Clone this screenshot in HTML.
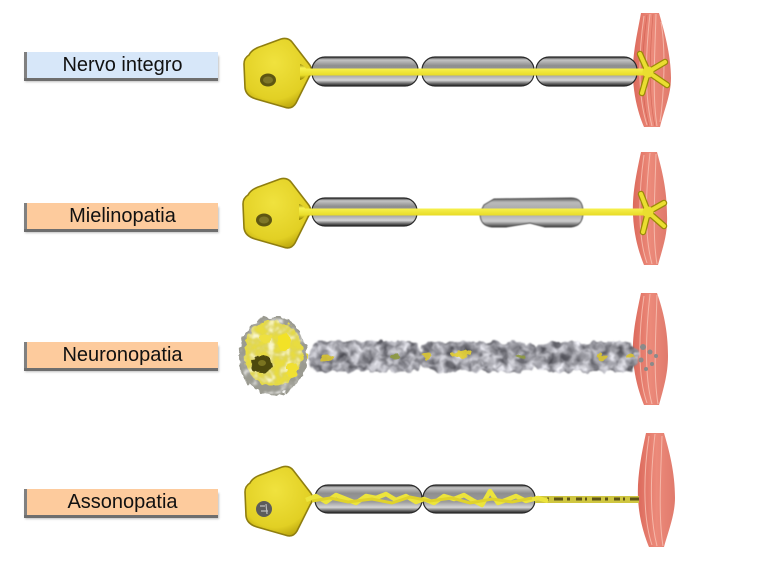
<!DOCTYPE html>
<html><head><meta charset="utf-8">
<style>
html,body{margin:0;padding:0;background:#fff;}
body{width:760px;height:569px;position:relative;overflow:hidden;font-family:"Liberation Sans",sans-serif;}
.lab{position:absolute;left:24px;width:194px;height:26px;box-sizing:border-box;border-left:3px solid #808080;box-shadow:0 3px 0 #6e6e6e,1px 4px 2px rgba(0,0,0,.25);font-size:20px;line-height:26px;text-align:center;color:#111;}
.blue{background:#d7e7f9}
.or{background:#fdcb9d}
svg{position:absolute;left:0;top:0}
</style></head><body>
<svg width="760" height="569" viewBox="0 0 760 569" xmlns="http://www.w3.org/2000/svg">
<defs>
 <linearGradient id="myel" x1="0" y1="0" x2="0" y2="1">
  <stop offset="0" stop-color="#3a3a3a"/>
  <stop offset="0.1" stop-color="#c4c4c4"/>
  <stop offset="0.3" stop-color="#8e8e8e"/>
  <stop offset="0.6" stop-color="#9c9c9c"/>
  <stop offset="0.8" stop-color="#d6d6d6"/>
  <stop offset="0.93" stop-color="#5a5a5a"/>
  <stop offset="1" stop-color="#222"/>
 </linearGradient>
 <linearGradient id="myel2" x1="0" y1="0" x2="0" y2="1">
  <stop offset="0" stop-color="#555"/>
  <stop offset="0.15" stop-color="#bbb"/>
  <stop offset="0.5" stop-color="#a2a2a2"/>
  <stop offset="0.8" stop-color="#cfcfcf"/>
  <stop offset="1" stop-color="#3a3a3a"/>
 </linearGradient>
 <linearGradient id="axon" x1="0" y1="0" x2="0" y2="1">
  <stop offset="0" stop-color="#9a8a08"/>
  <stop offset="0.25" stop-color="#f8f250"/>
  <stop offset="0.7" stop-color="#e8dc28"/>
  <stop offset="1" stop-color="#8a7a00"/>
 </linearGradient>
 <radialGradient id="soma" cx="0.45" cy="0.35" r="0.7">
  <stop offset="0" stop-color="#f0e23e"/>
  <stop offset="0.75" stop-color="#e2d024"/>
  <stop offset="1" stop-color="#b8a20a"/>
 </radialGradient>
 <linearGradient id="musc" x1="0" y1="0" x2="1" y2="0">
  <stop offset="0" stop-color="#dc6a5c"/>
  <stop offset="0.5" stop-color="#ec8a7a"/>
  <stop offset="1" stop-color="#e07a6c"/>
 </linearGradient>
 <filter id="rough" x="-20%" y="-40%" width="140%" height="180%">
  <feTurbulence type="fractalNoise" baseFrequency="0.14" numOctaves="2" seed="3" result="n"/>
  <feDisplacementMap in="SourceGraphic" in2="n" scale="8" xChannelSelector="R" yChannelSelector="G"/>
 </filter>
 <filter id="mot" x="-20%" y="-60%" width="140%" height="220%" color-interpolation-filters="sRGB">
  <feTurbulence type="fractalNoise" baseFrequency="0.11" numOctaves="3" seed="7" result="t"/>
  <feColorMatrix in="t" type="matrix" values="1.0 0 0 0 0.12  1.0 0 0 0 0.12  1.0 0 0 0 0.15  0 0 0 0 1" result="g"/>
  <feComposite in="g" in2="SourceAlpha" operator="in" result="c"/>
  <feTurbulence type="fractalNoise" baseFrequency="0.12" numOctaves="2" seed="2" result="d"/>
  <feDisplacementMap in="c" in2="d" scale="9" xChannelSelector="R" yChannelSelector="G" result="m"/>
  <feGaussianBlur in="m" stdDeviation="0.9"/>
 </filter>
 <filter id="motl" x="-20%" y="-30%" width="140%" height="160%" color-interpolation-filters="sRGB">
  <feTurbulence type="fractalNoise" baseFrequency="0.12" numOctaves="3" seed="11" result="t"/>
  <feColorMatrix in="t" type="matrix" values="1.2 0 0 0 0.15  1.2 0 0 0 0.15  1.2 0 0 0 0.15  2.5 0 0 0 -1.0" result="g"/>
  <feComposite in="g" in2="SourceAlpha" operator="in" result="c"/>
  <feGaussianBlur in="c" stdDeviation="0.8"/>
 </filter>
 <filter id="soft"><feGaussianBlur stdDeviation="0.6"/></filter>
 <path id="somaP" d="M249,55 Q252,49 262,46 L281,39 Q288,37 292,42 L309,64 Q314,70 309,77 L296,103 Q292,110 284,107 L256,99 Q246,96 245,88 L244,64 Q244,58 249,55 Z"/>
</defs>

<!-- ROW 1 -->
<g>
 <path d="M641,13 C637,35 632,55 633,78 C634,100 640,118 644,127 L660,127 C664,110 671,95 671,78 C671,55 664,30 659,13 Z" fill="url(#musc)"/>
 <g fill="none" stroke="#f8c0b2" stroke-width="1" opacity="0.85">
  <path d="M644,16 C639,50 637,95 647,125"/><path d="M650,14 C646,50 644,95 652,126"/><path d="M656,14 C655,50 652,95 657,126"/><path d="M661,22 C666,50 664,95 660,122"/>
 </g>
 <g fill="none" stroke="#c04c3e" stroke-width="0.7" opacity="0.5">
  <path d="M647,15 C642,50 640,95 649,126"/><path d="M653,14 C650,50 648,95 655,126"/>
 </g>
 <use href="#somaP" fill="url(#soma)" stroke="#8f7e10" stroke-width="1.6"/>
 <rect x="312" y="57" width="106" height="29" rx="13" fill="url(#myel)" stroke="#2a2a2a" stroke-width="1.2"/>
 <rect x="422" y="57" width="112" height="29" rx="13" fill="url(#myel)" stroke="#2a2a2a" stroke-width="1.2"/>
 <rect x="536" y="57" width="101" height="29" rx="13" fill="url(#myel)" stroke="#2a2a2a" stroke-width="1.2"/>
 <path d="M306,68.5 L646,68.5 L646,75.5 L306,75.5 Q304,79 300,80 L300,64 Q304,65 306,68.5 Z" fill="url(#axon)"/>
 <g stroke-linecap="round" fill="none">
  <g stroke="#9a8a08" stroke-width="6.5"><path d="M648,72 L640,54"/><path d="M648,72 L665,62"/><path d="M648,72 L667,85"/><path d="M648,72 L642,93"/></g>
  <g stroke="#eade30" stroke-width="4"><path d="M648,72 L640,54"/><path d="M648,72 L665,62"/><path d="M648,72 L667,85"/><path d="M648,72 L642,93"/></g>
 </g>
 <circle cx="648" cy="72" r="5.5" fill="#eade30"/>
 <ellipse cx="268" cy="80" rx="8" ry="6.5" fill="#5e5612"/>
 <ellipse cx="268" cy="80" rx="5" ry="3.5" fill="#7e7628"/>
</g>

<!-- ROW 2 -->
<g>
 <path d="M641,152 C636,175 632,195 633,215 C634,238 640,255 644,265 L658,265 C662,250 668,235 667,215 C667,190 662,170 657,152 Z" fill="url(#musc)"/>
 <g fill="none" stroke="#f8c0b2" stroke-width="1" opacity="0.85">
  <path d="M644,155 C639,190 637,235 647,263"/><path d="M650,153 C646,190 644,235 652,264"/><path d="M656,154 C655,190 652,235 657,264"/>
 </g>
 <use href="#somaP" transform="translate(-1,140)" fill="url(#soma)" stroke="#8f7e10" stroke-width="1.6"/>
 <rect x="312" y="198" width="105" height="28" rx="13" fill="url(#myel)" stroke="#2a2a2a" stroke-width="1.2"/>
 <path d="M494,199 L571,198 Q583,198 583,212 Q583,226 571,227 L545,227 L530,223 L506,227 L492,227 Q480,226 480,213 L484,205 Z" fill="url(#myel2)" stroke="#444" stroke-width="1" filter="url(#soft)"/>
 <path d="M305,208.5 L646,208.5 L646,215.5 L305,215.5 Q303,219 299,220 L299,204 Q303,205 305,208.5 Z" fill="url(#axon)"/>
 <g stroke-linecap="round" fill="none">
  <g stroke="#9a8a08" stroke-width="6.5"><path d="M648,212 L641,194"/><path d="M648,212 L664,203"/><path d="M648,212 L664,226"/><path d="M648,212 L643,232"/></g>
  <g stroke="#eade30" stroke-width="4"><path d="M648,212 L641,194"/><path d="M648,212 L664,203"/><path d="M648,212 L664,226"/><path d="M648,212 L643,232"/></g>
 </g>
 <circle cx="648" cy="212" r="5.5" fill="#eade30"/>
 <ellipse cx="264" cy="220" rx="8" ry="6.5" fill="#5e5612"/>
 <ellipse cx="264" cy="220" rx="5" ry="3.5" fill="#7e7628"/>
</g>

<!-- ROW 3 -->
<g>
 <path d="M641,293 C636,316 632,336 633,356 C634,378 640,395 644,405 L659,405 C663,390 668,375 668,356 C668,330 663,310 657,293 Z" fill="url(#musc)"/>
 <g fill="none" stroke="#f8c0b2" stroke-width="1" opacity="0.85">
  <path d="M644,296 C639,330 637,375 647,403"/><path d="M650,294 C646,330 644,375 652,404"/><path d="M657,295 C656,330 653,375 658,404"/>
 </g>
 <g fill="#8a8a8a">
  <circle cx="643" cy="347" r="3"/><circle cx="650" cy="352" r="2.5"/><circle cx="641" cy="360" r="2.5"/><circle cx="652" cy="364" r="2"/><circle cx="646" cy="369" r="2"/><circle cx="656" cy="356" r="2"/>
 </g>
 <g filter="url(#mot)">
  <rect x="308" y="341" width="114" height="31" rx="14" fill="#000"/>
  <rect x="420" y="342" width="117" height="30" rx="14" fill="#000"/>
  <rect x="535" y="342" width="103" height="30" rx="14" fill="#000"/>
 </g>
 <g filter="url(#rough)" opacity="0.9">
  <ellipse cx="327" cy="358" rx="6" ry="3" fill="#d8c430"/>
  <ellipse cx="395" cy="356" rx="5" ry="3" fill="#8e9a40"/>
  <ellipse cx="428" cy="355" rx="5" ry="3" fill="#d8c430"/>
  <ellipse cx="462" cy="354" rx="10" ry="3.5" fill="#e4d030"/>
  <ellipse cx="521" cy="357" rx="5" ry="3" fill="#8e9a40"/>
  <ellipse cx="602" cy="357" rx="6" ry="3" fill="#d8c430"/>
  <ellipse cx="630" cy="356" rx="5" ry="3" fill="#d8c430"/>
  <ellipse cx="306" cy="356" rx="4" ry="4" fill="#e0d030"/>
 </g>
 <g filter="url(#rough)">
  <ellipse cx="273" cy="356" rx="34" ry="39" fill="#9a9a90"/>
  <ellipse cx="273" cy="353" rx="29" ry="33" fill="#e8dc40"/>
 </g>
 <g filter="url(#motl)" opacity="0.75">
  <ellipse cx="273" cy="356" rx="33" ry="38" fill="#000"/>
 </g>
 <g filter="url(#rough)">
  <ellipse cx="284" cy="342" rx="7" ry="9" fill="#f2e228"/>
  <ellipse cx="292" cy="370" rx="6" ry="7" fill="#f0e030"/>
  <ellipse cx="266" cy="338" rx="6" ry="5" fill="#eee040"/>
  <ellipse cx="262" cy="364" rx="10" ry="9" fill="#4e4a10"/>
 </g>
 <ellipse cx="262" cy="363" rx="4" ry="3" fill="#7a7420"/>
</g>

<!-- ROW 4 -->
<g>
 <path d="M646,433 C641,456 637,478 638,498 C639,520 645,537 649,547 L664,547 C668,532 675,515 675,498 C675,472 669,450 664,433 Z" fill="url(#musc)"/>
 <g fill="none" stroke="#f8c0b2" stroke-width="1" opacity="0.85">
  <path d="M649,436 C644,470 642,515 652,545"/><path d="M655,434 C651,470 649,515 657,546"/><path d="M662,436 C661,470 658,515 663,546"/>
 </g>
 <use href="#somaP" transform="translate(1,428)" fill="url(#soma)" stroke="#8f7e10" stroke-width="1.6"/>
 <rect x="315" y="485" width="107" height="28" rx="13" fill="url(#myel)" stroke="#2a2a2a" stroke-width="1.2"/>
 <rect x="423" y="485" width="112" height="28" rx="13" fill="url(#myel)" stroke="#2a2a2a" stroke-width="1.2"/>
 <rect x="535" y="496" width="104" height="7" fill="#cfc640"/>
 <path d="M538,499 L639,499" stroke="#5e5418" stroke-width="3" stroke-dasharray="6 3 2 5 9 4 3 6" fill="none"/>
 <polyline points="306,500 316,496 326,502 336,495 346,499 356,503 366,496 376,498 386,494 396,500 406,496 416,502 424,499 434,503 444,496 454,499 464,495 474,501 482,505 490,491 498,503 506,500 516,496 526,501 538,498 548,501" fill="none" stroke="#ece43c" stroke-width="4.5" stroke-linejoin="round"/>
 <polyline points="312,501 330,498 348,502 372,499 392,503 410,497 430,501 452,498 470,503 492,499 512,502 532,498" fill="none" stroke="#e0d22a" stroke-width="3"/>
 <ellipse cx="264" cy="509" rx="8" ry="8" fill="#5c5c5c"/>
 <path d="M260,506 L265,506 M261,511 L268,511 M266,504 L267,514" stroke="#bbb" stroke-width="1.2"/>
</g>
</svg>

<div class="lab blue" style="top:52px">Nervo integro</div>
<div class="lab or" style="top:203px">Mielinopatia</div>
<div class="lab or" style="top:342px">Neuronopatia</div>
<div class="lab or" style="top:489px">Assonopatia</div>
</body></html>
